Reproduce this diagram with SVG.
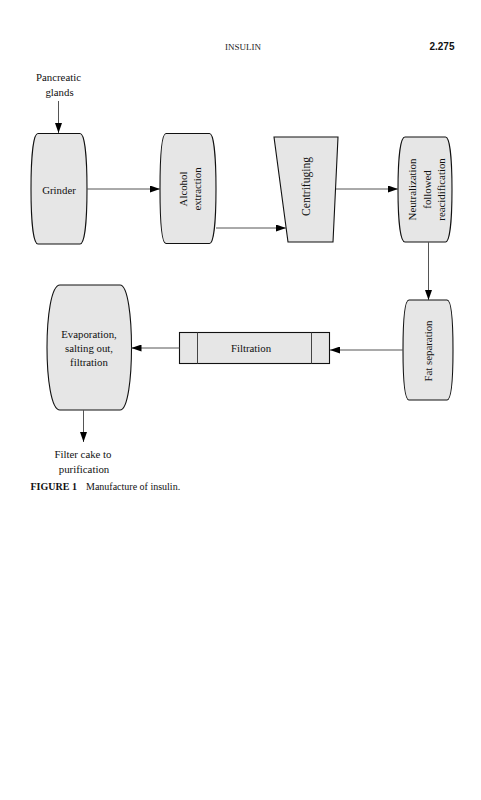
<svg xmlns="http://www.w3.org/2000/svg" width="481" height="800" viewBox="0 0 481 800">
<style>
.n{fill:#e6e6e6;stroke:#111;stroke-width:1.1}
.t{font-family:"Liberation Serif","Times New Roman",serif;font-size:10.8px;fill:#111;text-anchor:middle}
.c{stroke:#555;stroke-width:1;fill:none;marker-end:url(#ah)}
</style>
<defs>
<marker id="ah" markerUnits="userSpaceOnUse" markerWidth="10" markerHeight="7" refX="10" refY="3.5" orient="auto">
<path d="M0,0 L10,3.5 L0,7 z" fill="#000"/>
</marker>
</defs>
<rect width="481" height="800" fill="#fff"/>
<text x="243" y="49.5" font-family="Liberation Serif,serif" font-size="9" text-anchor="middle" fill="#222">INSULIN</text>
<text x="454.5" y="49.5" font-family="Liberation Sans,Arial,sans-serif" font-size="10" font-weight="bold" text-anchor="end" fill="#111">2.275</text>

<g id="pancreatic">
<text class="t" x="58.5" y="81">Pancreatic</text>
<text class="t" x="59.5" y="96">glands</text>
</g>
<g id="grinder">
<path class="n" d="M38,133.5 L80,133.5 C85,133.5 87,160 87,189 C87,218 85,244 80,244 L38,244 C33,244 31,218 31,189 C31,160 33,133.5 38,133.5 Z"/>
<text class="t" x="59" y="193.5">Grinder</text>
</g>
<g id="alcohol">
<path class="n" d="M166,133.5 L209.5,133.5 C214,133.5 216,160 216,189 C216,218 214,243.5 209.5,243.5 L166,243.5 C161.5,243.5 160,218 160,189 C160,160 161.5,133.5 166,133.5 Z"/>
<text class="t" transform="translate(186.5,189) rotate(-90)">Alcohol</text>
<text class="t" transform="translate(200.5,189) rotate(-90)">extraction</text>
</g>
<g id="centrifuging">
<path class="n" d="M274,137 L338,137 L333,242 L288,242 Z"/>
<text class="t" style="font-size:11.5px" transform="translate(310,186.5) rotate(-90)">Centrifuging</text>
</g>
<g id="neutralization">
<path class="n" d="M405,137 L445.5,137 C450,137 452,162 452,189.5 C452,217 450,242 445.5,242 L405,242 C400,242 398,217 398,189.5 C398,162 400,137 405,137 Z"/>
<text class="t" transform="translate(416,189.5) rotate(-90)">Neutralization</text>
<text class="t" transform="translate(430.5,189.5) rotate(-90)">followed</text>
<text class="t" transform="translate(445,189.5) rotate(-90)">reacidification</text>
</g>
<g id="fatsep">
<path class="n" d="M409,300 L447,300 C451.5,300 453,325 453,350 C453,375 451.5,400 447,400 L409,400 C404.5,400 403,375 403,350 C403,325 404.5,300 409,300 Z"/>
<text class="t" transform="translate(432,351) rotate(-90)">Fat separation</text>
</g>
<g id="filtration">
<rect class="n" x="179.5" y="332.5" width="150" height="31"/>
<line x1="197.5" y1="332.5" x2="197.5" y2="363.5" stroke="#444" stroke-width="1"/>
<line x1="311.5" y1="332.5" x2="311.5" y2="363.5" stroke="#444" stroke-width="1"/>
<text class="t" x="251" y="351.5">Filtration</text>
</g>
<g id="evaporation">
<path class="n" d="M60,285 L120,285 C128,285 131.5,318 131.5,347.5 C131.5,377 128,410 120,410 L60,410 C51,410 47,377 47,347.5 C47,318 51,285 60,285 Z"/>
<text class="t" x="89" y="337.5">Evaporation,</text>
<text class="t" x="89" y="352">salting out,</text>
<text class="t" x="89" y="365.5">filtration</text>
</g>
<g id="filtercake">
<text class="t" x="83" y="457.5">Filter cake to</text>
<text class="t" x="84" y="472.5">purification</text>
</g>

<g id="connectors">
<line class="c" x1="58.5" y1="101" x2="58.5" y2="133"/>
<line class="c" x1="87" y1="189" x2="160" y2="189"/>
<line class="c" x1="216" y1="228" x2="286" y2="228"/>
<line class="c" x1="336" y1="189" x2="398" y2="189"/>
<line class="c" x1="428.5" y1="242" x2="428.5" y2="300"/>
<line class="c" x1="403" y1="350" x2="330" y2="350"/>
<line class="c" x1="179.5" y1="348" x2="131.5" y2="348"/>
<line class="c" x1="83.5" y1="410" x2="83.5" y2="442"/>
</g>

<text x="30.5" y="490" font-family="Liberation Serif,serif" font-size="10" fill="#111"><tspan font-weight="bold">FIGURE 1</tspan><tspan x="86">Manufacture of insulin.</tspan></text>
</svg>
